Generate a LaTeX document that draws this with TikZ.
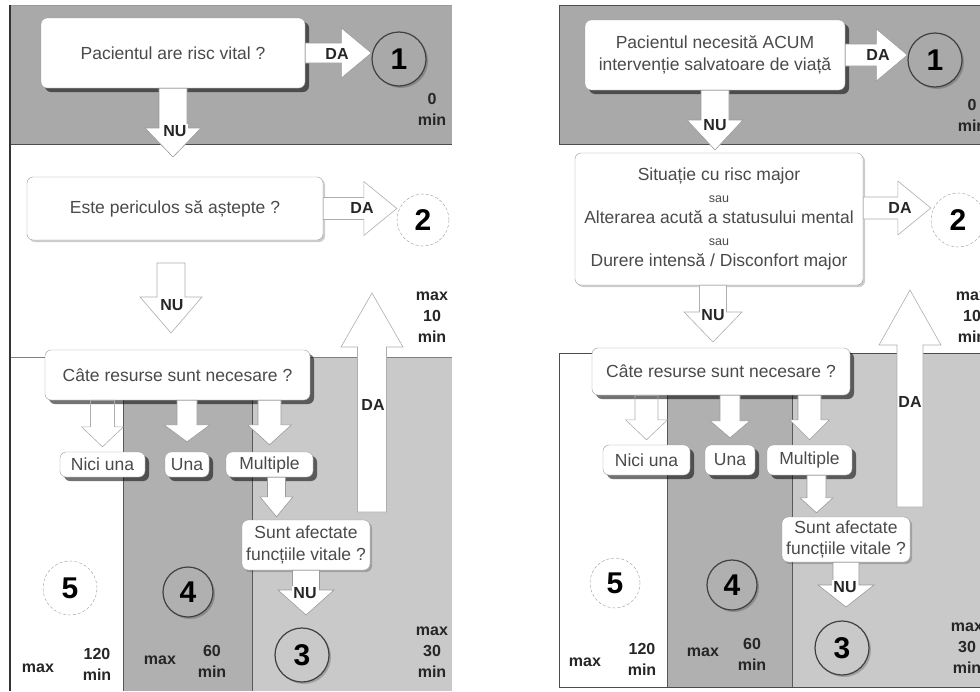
\documentclass[tikz,border=0pt]{standalone}
\usepackage{fontspec}
\setmainfont{Liberation Sans}
\usetikzlibrary{calc}
\usetikzlibrary{shadows}

\definecolor{bandgray}{HTML}{A9A9A9}
\definecolor{midgray}{HTML}{B0B0B0}
\definecolor{colright}{HTML}{C9C9C9}
\definecolor{boxtext}{HTML}{4A4A4A}
\definecolor{edgegray}{HTML}{9A9A9A}

\newcommand{\orword}{\fontsize{12.5}{14}\selectfont sau}

\tikzset{
  qbox/.style={draw=edgegray, fill=white, rounded corners=6pt, inner sep=0pt, align=center,
    text=boxtext, font=\fontsize{17.5}{21.5}\selectfont},
  qshadow/.style={drop shadow={shadow xshift=4pt, shadow yshift=-4pt, fill=black, opacity=.55}},
  lshadow/.style={drop shadow={shadow xshift=2pt, shadow yshift=-2pt, fill=black, opacity=.2}},
  lvl/.style={circle, inner sep=0pt, font=\fontsize{30}{30}\selectfont\bfseries},
  lvldark/.style={lvl, draw=black!75, line width=1.2pt},
  lvllight/.style={lvl, draw=edgegray, densely dashed, fill=white},
  lbl/.style={font=\fontsize{16}{21}\selectfont\bfseries, text=black!85, align=center, inner sep=0pt},
  arrlbl/.style={lbl, fill=white, inner sep=1pt},
  fullarr/.style={fill=white, draw=edgegray, line width=.6pt},
  openarr/.style={draw=edgegray!80, line width=.6pt},
}

\newcommand{\blockright}[6][]{\draw[#1] let \p1=(#2), \p2=(#3) in
  ({\x1},{\y1+#4pt}) -- ({\x2-#6pt},{\y1+#4pt}) -- ({\x2-#6pt},{\y1+#5pt}) -- ({\x2},{\y1})
  -- ({\x2-#6pt},{\y1-#5pt}) -- ({\x2-#6pt},{\y1-#4pt}) -- ({\x1},{\y1-#4pt}) -- cycle;}
\newcommand{\blockdown}[6][]{\draw[#1] let \p1=(#2), \p2=(#3) in
  ({\x1-#4pt},{\y1}) -- ({\x1-#4pt},{\y2+#6pt}) -- ({\x1-#5pt},{\y2+#6pt}) -- ({\x1},{\y2})
  -- ({\x1+#5pt},{\y2+#6pt}) -- ({\x1+#4pt},{\y2+#6pt}) -- ({\x1+#4pt},{\y1}) -- cycle;}
\newcommand{\blockup}[6][]{\draw[#1] let \p1=(#2), \p2=(#3) in
  ({\x1-#4pt},{\y1}) -- ({\x1-#4pt},{\y2-#6pt}) -- ({\x1-#5pt},{\y2-#6pt}) -- ({\x1},{\y2})
  -- ({\x1+#5pt},{\y2-#6pt}) -- ({\x1+#4pt},{\y2-#6pt}) -- ({\x1+#4pt},{\y1}) -- cycle;}

\begin{document}
\begin{tikzpicture}[x=1pt,y=-1pt]
\useasboundingbox (0,0) rectangle (980,691);
\clip (0,0) rectangle (980,691);

% left panel
\fill[bandgray] (10,5) rectangle (452,144);
\fill[midgray] (123,357) rectangle (252,691);
\fill[colright] (252,357) rectangle (452,691);
\draw[black!40,line width=.8pt] (10,5) -- (452,5);
\draw[black!70,line width=.8pt] (10,144) -- (452,144);
\draw[gray,line width=.8pt] (10,357) -- (452,357);
\draw[black!65,line width=.8pt] (123,357) -- (123,691) (252,357) -- (252,691);
\draw[black!80,line width=1.5pt] (10,5) -- (10,691);

\node[qbox,qshadow,minimum width=264pt,minimum height=70pt] (q1L) at (173,53) {Pacientul are risc vital ?};
\node[lvldark,fill=bandgray,minimum size=54pt,lshadow] (c1L) at (399,59) {1};
\blockright[fullarr]{q1L.east}{c1L.west}{10}{25}{30}
\node[arrlbl] (da1L) at (337,54) {DA};
\node[lbl] (z1L) at (432,109) {0\\min};
\coordinate (t1L) at (175,157);
\blockdown[fullarr]{q1L.south}{t1L}{14}{28}{29}
\node[arrlbl] (nu1L) at (175,131) {NU};

\node[qbox,lshadow,minimum width=296pt,minimum height=63pt] (q2L) at (175,208.5) {Este periculos să aștepte ?};
\node[lvllight,minimum size=52pt] (c2L) at (423,220) {2};
\blockright[openarr,fill=white]{q2L.east}{c2L.west}{11}{27}{33}
\node[arrlbl] (da2L) at (362,208) {DA};
\coordinate (s2L) at (171,263);
\coordinate (t2L) at (171,333);
\blockdown[openarr,fill=white]{s2L}{t2L}{14}{31}{36}
\node[arrlbl] (nu2L) at (172,305) {NU};
\node[lbl] (m10L) at (432,317) {max\\10\\min};

\coordinate (s3L) at (372,512);
\coordinate (t3L) at (372,293);
\blockup[openarr,fill=white]{s3L}{t3L}{14.5}{31}{54}
\node[lbl] (da3L) at (373,405) {DA};

\node[qbox,qshadow,minimum width=265pt,minimum height=50pt] (qRL) at (177.5,375) {Câte resurse sunt necesare ?};
\node[qbox,qshadow,minimum width=85pt,minimum height=25pt] (n0L) at (102.5,464.5) {Nici una};
\node[qbox,qshadow,minimum width=44pt,minimum height=25pt] (n1L) at (187,464.5) {Una};
\node[qbox,qshadow,minimum width=87pt,minimum height=25pt] (n2L) at (269.5,464.5) {Multiple};
\blockdown[openarr]{n0L |- qRL.south}{$(n0L.north)+(0,-5)$}{12}{21}{20}
\blockdown[fullarr]{n1L |- qRL.south}{$(n1L.north)+(0,-10)$}{10}{23}{17}
\blockdown[fullarr]{n2L |- qRL.south}{$(n2L.north)+(0,-7)$}{11.5}{22}{20}

\node[qbox,lshadow,minimum width=128pt,minimum height=50pt] (qVL) at (306,545) {Sunt afectate\\funcțiile vitale ?};
\blockdown[fullarr]{$(n2L.south)+(7,0)$}{$(qVL.north)+(0,-3)$}{9}{16.5}{20}
\coordinate (t4L) at (305,615);
\blockdown[fullarr]{qVL.south}{t4L}{13.5}{28}{25}
\node[arrlbl] (nu4L) at (305,593) {NU};

\node[lvldark,fill=colright,minimum size=54pt,lshadow] (c3L) at (302,655) {3};
\node[lvllight,minimum size=54pt] (c5L) at (70,588) {5};
\node[lvldark,fill=midgray,minimum size=50pt,lshadow] (c4L) at (188,592) {4};
\node[lbl] (mx5L) at (38,668) {max};
\node[lbl] (tm5L) at (97,664) {120\\min};
\node[lbl] (mx4L) at (160,660) {max};
\node[lbl] (tm4L) at (212,661.5) {60\\min};
\node[lbl] (tm3L) at (432,652) {max\\30\\min};

% right panel
\fill[bandgray] (559,5) rectangle (1000,144);
\draw[black!70,line width=.8pt] (1000,5) -- (559,5) -- (559,144) -- (1000,144);
\fill[midgray] (667,353) rectangle (792,687);
\fill[colright] (792,353) rectangle (1000,687);
\draw[black!70,line width=.8pt] (1000,353) -- (559,353) -- (559,687) -- (1000,687);
\draw[black!65,line width=.8pt] (667,353) -- (667,687) (792,353) -- (792,687);

\node[qbox,qshadow,minimum width=260pt,minimum height=70pt] (q1R) at (715,55) {Pacientul necesită ACUM\\intervenție salvatoare de viață};
\node[lvldark,fill=bandgray,minimum size=54pt,lshadow] (c1R) at (935,60) {1};
\blockright[fullarr]{q1R.east}{c1R.west}{11}{26}{31}
\node[arrlbl] (da1R) at (878,55) {DA};
\node[lbl] (z1R) at (972,115) {0\\min};
\coordinate (t1R) at (715,150);
\blockdown[fullarr]{q1R.south}{t1R}{14}{28}{30}
\node[arrlbl] (nu1R) at (715,125) {NU};

\node[qbox,lshadow,minimum width=288pt,minimum height=132pt] (q2R) at (719,219) {Situație cu risc major\\\orword\\Alterarea acută a statusului mental\\\orword\\Durere intensă / Disconfort major};
\node[lvllight,minimum size=54pt] (c2R) at (958,220) {2};
\blockright[openarr,fill=white]{$(q2R.east)+(0,-11)$}{c2R.west}{11}{27}{33}
\node[arrlbl] (da2R) at (900,208) {DA};
\coordinate (t2R) at (713,342);
\blockdown[openarr,fill=white]{$(q2R.south)+(-6,0)$}{t2R}{13.5}{29}{30}
\node[arrlbl] (nu2R) at (713,315) {NU};
\node[lbl] (m10R) at (972,317) {max\\10\\min};

\coordinate (s3R) at (910,507);
\coordinate (t3R) at (910,290);
\blockup[openarr,fill=white]{s3R}{t3R}{13}{31}{55}
\node[lbl] (da3R) at (910,402) {DA};

\node[qbox,qshadow,minimum width=258pt,minimum height=47pt] (qRR) at (721,371.5) {Câte resurse sunt necesare ?};
\node[qbox,qshadow,minimum width=87pt,minimum height=30pt] (n0R) at (646.5,460) {Nici una};
\node[qbox,qshadow,minimum width=50pt,minimum height=30pt] (n1R) at (730,460) {Una};
\node[qbox,qshadow,minimum width=85pt,minimum height=30pt] (n2R) at (809.5,460) {Multiple};
\blockdown[openarr]{n0R |- qRR.south}{$(n0R.north)+(0,-5)$}{11.5}{21}{20}
\blockdown[fullarr]{n1R |- qRR.south}{$(n1R.north)+(0,-7)$}{10}{20}{17}
\blockdown[fullarr]{n2R |- qRR.south}{$(n2R.north)+(0,-5)$}{11.5}{20}{20}

\node[qbox,lshadow,minimum width=128pt,minimum height=45pt] (qVR) at (846,539.5) {Sunt afectate\\funcțiile vitale ?};
\blockdown[fullarr]{$(n2R.south)+(7,0)$}{$(qVR.north)+(0,-4)$}{9.5}{16.5}{15}
\coordinate (t4R) at (845,607);
\blockdown[fullarr]{qVR.south}{t4R}{13}{28}{22}
\node[arrlbl] (nu4R) at (845,587) {NU};

\node[lvldark,fill=colright,minimum size=54pt,lshadow] (c3R) at (842,648) {3};
\node[lvllight,minimum size=50pt] (c5R) at (615,583) {5};
\node[lvldark,fill=midgray,minimum size=50pt,lshadow] (c4R) at (732,585) {4};
\node[lbl] (mx5R) at (585,662) {max};
\node[lbl] (tm5R) at (642,659) {120\\min};
\node[lbl] (mx4R) at (703,652) {max};
\node[lbl] (tm4R) at (752,654) {60\\min};
\node[lbl] (tm3R) at (967,648) {max\\30\\min};
\end{tikzpicture}
\end{document}
